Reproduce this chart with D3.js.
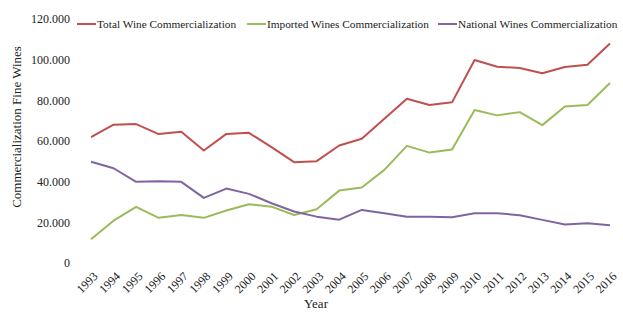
<!DOCTYPE html>
<html><head><meta charset="utf-8">
<script src="https://cdn.jsdelivr.net/npm/d3@7"></script>
<style>body{margin:0;background:#fff}text{font-family:"Liberation Serif","Times New Roman",serif;fill:#222}</style>
</head><body><svg id="c" width="623" height="312"></svg>
<script>
const years = d3.range(1993, 2017).map(String);
const totalWine = [61900,68000,68300,63400,64500,55300,63500,64000,57000,49600,50100,57800,61100,71000,80800,77700,79000,99800,96500,95900,93300,96400,97500,107900];
const importedWine = [11700,20800,27600,22200,23600,22200,25800,28900,27700,23600,26400,35600,37100,45800,57600,54300,55800,75200,72600,74200,67800,77000,77700,88500];
const nationalWine = [49800,46600,39900,40200,39900,32000,36600,34000,29400,25300,22800,21300,26100,24500,22800,22800,22500,24500,24500,23500,21200,18900,19600,18600];
const yTicks = [0,20000,40000,60000,80000,100000,120000];
const seriesNames = ["Total Wine Commercialization","Imported Wines Commercialization","National Wines Commercialization"];
const colors = ["#c0504d","#9bbb59","#8064a2"];
const series = [totalWine, importedWine, nationalWine];

const svg = d3.select("#c");
const x = d3.scalePoint().domain(years).range([91,610]);
const y = d3.scaleLinear().domain([0,120000]).range([263,19]);
const fmt = v => v === 0 ? "0" : d3.format(",")(v).replace(/,/g, ".");

const yAxis = svg.append("g").attr("transform","translate(76,0)")
  .call(d3.axisLeft(y).tickValues(yTicks).tickFormat(fmt).tickSize(0).tickPadding(6));
yAxis.select(".domain").remove();
yAxis.selectAll("text").attr("font-size","12px").attr("font-family","Liberation Serif").attr("fill","#222");

const xAxis = svg.append("g").attr("transform","translate(0,270)")
  .call(d3.axisBottom(x).tickSize(0).tickPadding(0));
xAxis.select(".domain").remove();
xAxis.selectAll("text").attr("font-size","12px").attr("font-family","Liberation Serif").attr("fill","#222")
  .attr("text-anchor","end").attr("dy","0.35em").attr("dx","0")
  .attr("transform","translate(4,4) rotate(-45)");

const line = d3.line().x((d,i)=>x(years[i])).y(d=>y(d));
series.forEach((s,k)=>{
  svg.append("path").datum(s).attr("d",line).attr("fill","none")
    .attr("stroke",colors[k]).attr("stroke-width",2).attr("stroke-linejoin","round");
});

const legX = [77,247,438];
seriesNames.forEach((n,k)=>{
  const g = svg.append("g").attr("transform",`translate(${legX[k]},24)`);
  g.append("line").attr("x1",0).attr("x2",19).attr("y1",0).attr("y2",0).attr("stroke",colors[k]).attr("stroke-width",2);
  g.append("text").attr("x",20).attr("y",0).attr("dy","0.33em").attr("font-size","11.3px").text(n);
});

svg.append("text").attr("transform","translate(21,127) rotate(-90)").attr("text-anchor","middle")
  .attr("font-size","13px").text("Commercialization  Fine Wines");
svg.append("text").attr("x",316).attr("y",308).attr("text-anchor","middle").attr("font-size","13px").text("Year");
</script></body></html>
